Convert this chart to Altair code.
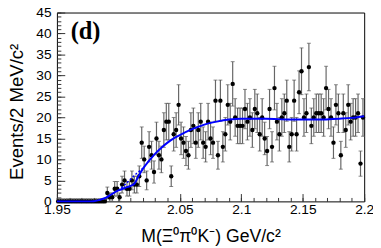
import altair as alt
import pandas as pd
import numpy as np

# ---- data ----
bin_start = 1.951          # first bin centre (GeV/c^2)
bin_width = 0.002          # 2 MeV bins
counts = [0] * 20 + [
    2, 1, 1, 3, 3, 1, 4, 5, 3, 3,
    5, 4, 4, 6, 14, 10, 5, 13, 11, 7,
    15, 11, 10, 17, 19, 19, 6, 16, 17, 23,
    15, 14, 12, 11, 17, 18, 14, 17, 19, 14,
    13, 19, 15, 14, 24, 11, 24, 13, 16, 23,
    19, 28, 20, 18, 18, 18, 22, 19, 20, 17,
    22, 21, 16, 20, 15, 12, 22, 13, 27, 19,
    16, 20, 21, 24, 13, 16, 24, 16, 26, 31,
    20, 21, 32, 18, 20, 21, 21, 21, 20, 27,
    22, 20, 14, 23, 21, 11, 21, 17, 23, 19,
    20, 20, 21, 9, 20,
]
fit_x = [1.95, 1.975, 1.98, 1.985, 1.99, 1.995, 2.0, 2.005, 2.01, 2.013, 2.016,
         2.02, 2.025, 2.03, 2.035, 2.04, 2.045, 2.05, 2.06, 2.07, 2.08, 2.09,
         2.1, 2.12, 2.14, 2.16, 2.18, 2.19, 2.2]
fit_y = [0, 0, 0.05, 0.4, 0.9, 1.8, 2.6, 3.2, 3.7, 4.2, 5.8,
         7.8, 9.7, 11.4, 12.8, 14.0, 15.0, 15.8, 17.2, 18.3, 19.0, 19.5,
         19.7, 19.7, 19.5, 19.5, 19.7, 19.9, 20.3]
dot_x = [2.0, 2.005, 2.01, 2.015, 2.02]
dot_y = [2.6, 3.9, 5.3, 6.7, 7.9]
x_ticks_major = [1.95, 2.0, 2.05, 2.1, 2.15, 2.2]
x_ticks_minor = [round(1.95 + 0.01 * i, 2) for i in range(26)]
y_ticks_major = list(range(0, 46, 5))
y_ticks_minor = list(range(0, 46, 1))

W, H = 314, 193

centres = [round(bin_start + bin_width * i, 4) for i in range(len(counts))]
err_hi = [np.sqrt(c) if c > 0 else 0.6 for c in counts]
err_lo = [np.sqrt(c) if c > 0 else 0.0 for c in counts]
df = pd.DataFrame({
    "m": centres,
    "n": counts,
    "lo": [c - e for c, e in zip(counts, err_lo)],
    "hi": [c + e for c, e in zip(counts, err_hi)],
})
fit_df = pd.DataFrame({"m": fit_x, "f": fit_y})
dot_df = pd.DataFrame({"m": dot_x, "f": dot_y})

xs = alt.Scale(domain=[1.95, 2.2], nice=False, zero=False)
ys = alt.Scale(domain=[0, 45], nice=False, zero=True)
FONT = "Liberation Sans"
TC = "#333333"

base = alt.Chart(df)

# main axes: labels and titles, no ticks
points = base.mark_circle(size=20, color="black", opacity=1).encode(
    x=alt.X("m:Q", scale=xs, axis=alt.Axis(
        orient="bottom", values=x_ticks_major, format="~g", ticks=False, tickSize=0,
        domain=False, grid=False, labelFont=FONT, labelFontSize=14, labelColor="black",
        labelPadding=1, labelFlush=False, labelOverlap=False,
        title="M(Ξ⁰π⁰K⁻) GeV/c²", titleFont=FONT, titleFontSize=18,
        titleFontWeight="normal", titleColor="black", titleBaseline="alphabetic",
        titleY=41)),
    y=alt.Y("n:Q", scale=ys, axis=alt.Axis(
        orient="left", values=y_ticks_major, ticks=False, tickSize=0, domain=False,
        grid=False, labelFont=FONT, labelFontSize=14, labelColor="black",
        labelPadding=6, labelFlush=False, labelOverlap=False,
        title="Events/2 MeV/c²", titleFont=FONT, titleFontSize=19,
        titleFontWeight="normal", titleColor="black", titleAngle=270,
        titleBaseline="alphabetic", titleAlign="center", titleX=-35, titleY=101)),
)

# error bars, carrying the major inward ticks
errs = base.mark_rule(color="#666666", strokeWidth=1.2).encode(
    x=alt.X("m:Q", scale=xs, axis=alt.Axis(
        orient="top", offset=-H, values=x_ticks_major, tickSize=8, labels=False,
        domain=False, grid=False, tickColor=TC, title=None)),
    y=alt.Y("lo:Q", scale=ys, axis=alt.Axis(
        orient="right", offset=-W, values=y_ticks_major, tickSize=8, labels=False,
        domain=False, grid=False, tickColor=TC, title=None)),
    y2="hi:Q",
)

# lower caps, carrying the minor inward ticks
caps_lo = base.mark_tick(orient="horizontal", size=4, thickness=1, color="#555555").encode(
    x=alt.X("m:Q", scale=xs, axis=alt.Axis(
        orient="top", offset=-H, values=x_ticks_minor, tickSize=4, labels=False,
        domain=False, grid=False, tickColor=TC, title=None)),
    y=alt.Y("lo:Q", scale=ys, axis=alt.Axis(
        orient="right", offset=-W, values=y_ticks_minor, tickSize=4, labels=False,
        domain=False, grid=False, tickColor=TC, title=None)),
)
caps_hi = base.mark_tick(orient="horizontal", size=4, thickness=1, color="#555555").encode(
    x=alt.X("m:Q", scale=xs, axis=None),
    y=alt.Y("hi:Q", scale=ys, axis=None),
)

fit = alt.Chart(fit_df).mark_line(color="#0000ff", strokeWidth=2, interpolate="monotone").encode(
    x=alt.X("m:Q", scale=xs, axis=None),
    y=alt.Y("f:Q", scale=ys, axis=None),
)
dotted = alt.Chart(dot_df).mark_line(color="#0000ff", strokeWidth=1.5, strokeDash=[2, 2],
                                     interpolate="monotone").encode(
    x=alt.X("m:Q", scale=xs, axis=None),
    y=alt.Y("f:Q", scale=ys, axis=None),
)

label = alt.Chart(pd.DataFrame({"t": ["(d)"]})).mark_text(
    font="Liberation Serif", fontSize=25, fontWeight="bold", align="left",
    baseline="alphabetic", color="black").encode(
    text="t:N", x=alt.value(14), y=alt.value(27))

chart = alt.layer(errs, caps_lo, caps_hi, points, dotted, fit, label).resolve_axis(
    x="independent", y="independent"
).properties(
    width=W, height=H,
    padding={"left": 50, "top": 2, "right": 9, "bottom": 45},
    autosize=alt.AutoSizeParams(type="none"),
    background="white",
).configure_view(stroke="black", strokeWidth=1)

chart.save("out.html", embed_options={"renderer": "svg", "actions": False})
